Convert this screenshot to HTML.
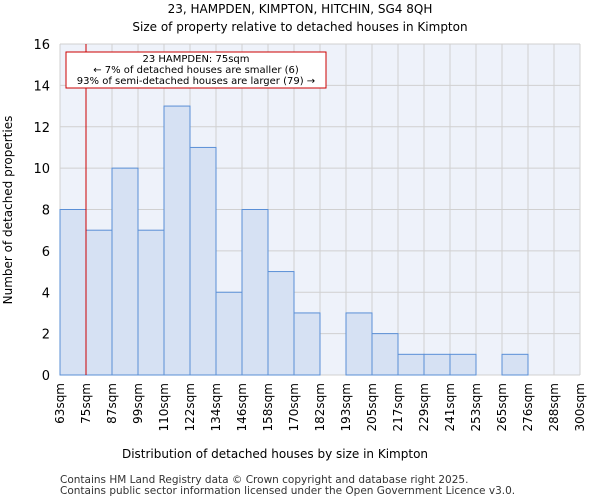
<!DOCTYPE html>
<html><head><meta charset="utf-8"><style>
body{margin:0;background:#fff;font-family:"DejaVu Sans","Liberation Sans",sans-serif;}
</style></head><body>
<svg width="600" height="500" xmlns="http://www.w3.org/2000/svg" font-family="DejaVu Sans, Liberation Sans, sans-serif">
<text x="300" y="13" text-anchor="middle" font-size="12">23, HAMPDEN, KIMPTON, HITCHIN, SG4 8QH</text>
<text x="300" y="31" text-anchor="middle" font-size="12">Size of property relative to detached houses in Kimpton</text>
<rect x="60" y="44" width="520" height="331" fill="#eef2fa"/>
<g id="grid"></g>
<g id="bars"></g>
<g id="axes"></g>
<line x1="86" y1="44" x2="86" y2="375" stroke="#cc0000" stroke-width="1"/>
<g>
<rect x="66" y="52" width="260" height="36" fill="#fff" stroke="#cc0000" stroke-width="1"/>
<text x="196" y="62" text-anchor="middle" font-size="10">23 HAMPDEN: 75sqm</text>
<text x="196" y="73" text-anchor="middle" font-size="10">← 7% of detached houses are smaller (6)</text>
<text x="196" y="84" text-anchor="middle" font-size="10">93% of semi-detached houses are larger (79) →</text>
</g>
<text x="275" y="458" text-anchor="middle" font-size="12">Distribution of detached houses by size in Kimpton</text>
<text transform="translate(12,210) rotate(-90)" text-anchor="middle" font-size="12">Number of detached properties</text>
<text x="60" y="483" font-size="10.5" fill="#333">Contains HM Land Registry data © Crown copyright and database right 2025.</text>
<text x="60" y="494" font-size="10.5" fill="#333">Contains public sector information licensed under the Open Government Licence v3.0.</text>
</svg>
<script>
const categories=["63sqm","75sqm","87sqm","99sqm","110sqm","122sqm","134sqm","146sqm","158sqm","170sqm","182sqm","193sqm","205sqm","217sqm","229sqm","241sqm","253sqm","265sqm","276sqm","288sqm","300sqm"];
const counts=[8,7,10,7,13,11,4,8,5,3,0,3,2,1,1,1,0,1,0,0];
const yTicks=[0,2,4,6,8,10,12,14,16];
const NS="http://www.w3.org/2000/svg";
const x0=60,x1=580,y0=375,y1=44,yMax=16;
const bw=(x1-x0)/counts.length;
const xs=i=>x0+i*bw;
const ys=v=>y0-(v/yMax)*(y0-y1);
const grid=document.getElementById('grid'),bars=document.getElementById('bars'),axes=document.getElementById('axes');
function mk(tag,attrs,parent){const e=document.createElementNS(NS,tag);for(const k in attrs)e.setAttribute(k,attrs[k]);parent.appendChild(e);return e;}
yTicks.forEach(t=>{
 const l=mk('line',{x1:x0,x2:x1,y1:ys(t),y2:ys(t),stroke:'#d0d0d0','stroke-width':1},grid);
 
 
 const tx=mk('text',{x:x0-10,y:ys(t)+5,'text-anchor':'end','font-size':13},axes);
 tx.textContent=t;
 
 
});
categories.forEach((c,i)=>{
 const l=mk('line',{x1:xs(i),x2:xs(i),y1:y1,y2:y0,stroke:'#d0d0d0','stroke-width':1},grid);
 
 
 const tx=mk('text',{transform:`translate(${xs(i)+4},${y0+8}) rotate(-90)`,'text-anchor':'end','font-size':12},axes);
 tx.textContent=c;
 
 
});
counts.forEach((v,i)=>{
 if(v<=0)return;
 const r=mk('rect',{x:xs(i),y:ys(v),width:bw,height:y0-ys(v),fill:'#d6e1f3',stroke:'#5a8fd6','stroke-width':1},bars);
 
 
});
</script>
</body></html>
